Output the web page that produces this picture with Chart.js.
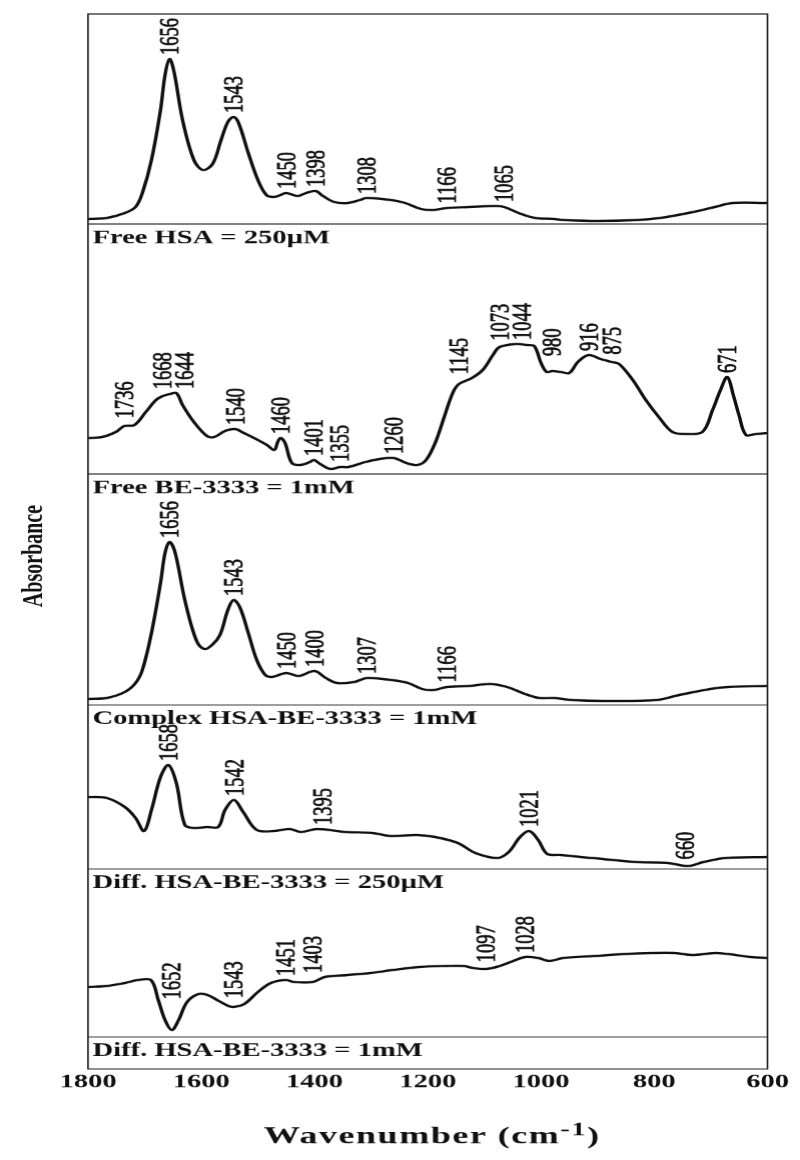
<!DOCTYPE html>
<html>
<head>
<meta charset="utf-8">
<title>FTIR spectra HSA / BE-3333</title>
<script src="https://cdn.jsdelivr.net/npm/chart.js@4.4.1/dist/chart.umd.min.js"></script>
<style>
  html, body { margin: 0; padding: 0; background: #fff; overflow: hidden; }
  /* the published figure is stretched horizontally, so the whole chart is too */
  #wrap { width: 533px; height: 1160px; transform: scaleX(1.501); transform-origin: 0 0; }
</style>
</head>
<body>
<div id="wrap"><canvas id="ftir"></canvas></div>
<script>
// ---- DATA (wavenumber in cm-1, absorbance in a.u.) ----
const tickValues = [1800, 1600, 1400, 1200, 1000, 800, 600];

const hsaName  = 'Free HSA = 250µM';
const hsaWn    = [1800, 1767, 1735, 1716, 1704, 1688, 1672, 1664, 1656, 1648, 1633, 1613, 1597, 1580, 1565, 1553, 1543, 1534, 1517, 1500, 1485, 1472, 1460, 1450, 1430, 1415, 1398, 1385, 1365, 1341, 1320, 1308, 1265, 1240, 1212, 1190, 1166, 1127, 1080, 1065, 1035, 1010, 977, 960, 900, 830, 790, 740, 693, 662, 600];
const hsaAbs   = [0.05, 0.06, 0.11, 0.17, 0.31, 0.64, 1.14, 1.49, 1.65, 1.52, 1.04, 0.64, 0.54, 0.60, 0.84, 1.02, 1.07, 1.01, 0.71, 0.44, 0.29, 0.27, 0.29, 0.31, 0.28, 0.31, 0.33, 0.28, 0.22, 0.21, 0.24, 0.26, 0.24, 0.21, 0.15, 0.14, 0.16, 0.17, 0.18, 0.17, 0.10, 0.06, 0.05, 0.04, 0.03, 0.04, 0.06, 0.11, 0.17, 0.21, 0.21];
const hsaMarks = [1656, 1543, 1450, 1398, 1308, 1166, 1065];

const beName   = 'Free BE-3333 = 1mM';
const beWn     = [1800, 1775, 1751, 1736, 1718, 1698, 1680, 1668, 1655, 1644, 1633, 1613, 1590, 1577, 1558, 1540, 1525, 1500, 1484, 1471, 1465, 1460, 1452, 1440, 1425, 1408, 1401, 1390, 1372, 1355, 1340, 1310, 1285, 1260, 1238, 1218, 1203, 1187, 1171, 1156, 1145, 1122, 1103, 1085, 1073, 1044, 1025, 1012, 1000, 990, 980, 965, 950, 935, 916, 895, 875, 862, 838, 815, 792, 768, 745, 715, 697, 683, 671, 660, 650, 638, 620, 600];
const beAbs    = [0.36, 0.37, 0.42, 0.48, 0.49, 0.62, 0.74, 0.78, 0.80, 0.81, 0.69, 0.52, 0.38, 0.37, 0.43, 0.45, 0.41, 0.34, 0.29, 0.24, 0.32, 0.36, 0.31, 0.11, 0.09, 0.12, 0.14, 0.10, 0.05, 0.07, 0.07, 0.12, 0.15, 0.16, 0.11, 0.09, 0.14, 0.31, 0.57, 0.81, 0.90, 0.96, 1.04, 1.19, 1.27, 1.30, 1.29, 1.28, 1.11, 1.02, 1.03, 1.02, 1.01, 1.12, 1.19, 1.15, 1.12, 1.10, 0.94, 0.74, 0.57, 0.42, 0.40, 0.42, 0.64, 0.84, 0.97, 0.78, 0.58, 0.39, 0.40, 0.41];
const beMarks  = [1736, 1668, 1644, 1540, 1460, 1401, 1355, 1260, 1145, 1073, 1044, 980, 916, 875, 671];

const cxName   = 'Complex HSA-BE-3333 = 1mM';
const cxWn     = [1800, 1767, 1735, 1716, 1704, 1688, 1672, 1664, 1656, 1646, 1629, 1609, 1595, 1581, 1567, 1553, 1543, 1532, 1517, 1502, 1487, 1475, 1450, 1428, 1400, 1380, 1360, 1330, 1307, 1265, 1235, 1210, 1190, 1166, 1127, 1090, 1060, 1028, 1003, 977, 946, 891, 796, 756, 701, 670, 600];
const cxAbs    = [0.06, 0.07, 0.13, 0.22, 0.35, 0.72, 1.22, 1.52, 1.63, 1.52, 1.05, 0.65, 0.56, 0.60, 0.70, 0.95, 1.05, 0.98, 0.72, 0.45, 0.30, 0.28, 0.32, 0.29, 0.34, 0.27, 0.22, 0.23, 0.27, 0.25, 0.22, 0.16, 0.15, 0.18, 0.19, 0.21, 0.18, 0.11, 0.07, 0.07, 0.05, 0.04, 0.05, 0.10, 0.16, 0.18, 0.19];
const cxMarks  = [1656, 1543, 1450, 1400, 1307, 1166];

const d250Name  = 'Diff. HSA-BE-3333 = 250µM';
const d250Wn    = [1800, 1767, 1735, 1716, 1701, 1688, 1672, 1658, 1644, 1629, 1613, 1589, 1570, 1558, 1542, 1526, 1502, 1471, 1444, 1424, 1395, 1345, 1298, 1266, 1219, 1187, 1147, 1116, 1077, 1057, 1037, 1021, 1005, 989, 965, 910, 831, 776, 740, 713, 674, 600];
const d250Abs   = [0.72, 0.71, 0.62, 0.51, 0.38, 0.59, 0.92, 1.04, 0.86, 0.44, 0.41, 0.42, 0.42, 0.59, 0.69, 0.57, 0.39, 0.38, 0.40, 0.37, 0.40, 0.37, 0.36, 0.33, 0.34, 0.32, 0.26, 0.16, 0.11, 0.17, 0.32, 0.38, 0.29, 0.15, 0.14, 0.11, 0.07, 0.06, 0.03, 0.07, 0.11, 0.12];
const d250Marks = [1658, 1542, 1395, 1021, 660];
const d250At    = [1658, 1542, 1385, 1021, 745];   // where the labels sit in the figure

const d1Name   = 'Diff. HSA-BE-3333 = 1mM';
const d1Wn     = [1800, 1767, 1735, 1712, 1689, 1676, 1664, 1652, 1640, 1625, 1605, 1589, 1569, 1552, 1543, 1524, 1500, 1477, 1451, 1436, 1403, 1382, 1341, 1301, 1262, 1215, 1167, 1136, 1120, 1097, 1073, 1049, 1028, 1005, 985, 961, 906, 851, 804, 764, 733, 693, 670, 630, 600];
const d1Abs    = [0.50, 0.51, 0.54, 0.57, 0.57, 0.37, 0.17, 0.07, 0.17, 0.35, 0.43, 0.42, 0.36, 0.31, 0.30, 0.33, 0.45, 0.54, 0.57, 0.55, 0.55, 0.60, 0.62, 0.64, 0.67, 0.70, 0.71, 0.71, 0.69, 0.68, 0.71, 0.76, 0.80, 0.79, 0.76, 0.79, 0.81, 0.83, 0.84, 0.84, 0.82, 0.84, 0.83, 0.80, 0.79];
const d1Marks  = [1652, 1543, 1451, 1403, 1097, 1028];

// each panel's absorbance range (a.u.), top to bottom; the caption band closes the frame
const panelMax = [2.10, 2.50, 2.31, 1.64, 1.68];
const captionBand = 0.32;

const panels = [
  { name: hsaName,  wn: hsaWn,  ab: hsaAbs,  marks: hsaMarks,  at: hsaMarks },
  { name: beName,   wn: beWn,   ab: beAbs,   marks: beMarks,   at: beMarks },
  { name: cxName,   wn: cxWn,   ab: cxAbs,   marks: cxMarks,   at: cxMarks },
  { name: d250Name, wn: d250Wn, ab: d250Abs, marks: d250Marks, at: d250At },
  { name: d1Name,   wn: d1Wn,   ab: d1Abs,   marks: d1Marks,   at: d1Marks },
];

const SERIF = "'Liberation Serif', 'Times New Roman', serif";
const INK = '#111';

// ---- helpers ----
function absAt(wn, ab, w) {
  for (let i = 0; i < wn.length - 1; i++) {
    if (w <= wn[i] && w >= wn[i + 1]) {
      const t = (wn[i] - w) / (wn[i] - wn[i + 1]);
      return ab[i] + t * (ab[i + 1] - ab[i]);
    }
  }
  return ab[ab.length - 1];
}
// highest point of the trace close to a label
function topNear(wn, ab, w) {
  let m = Math.max(absAt(wn, ab, w), absAt(wn, ab, w - 22), absAt(wn, ab, w + 22));
  wn.forEach((v, i) => { if (Math.abs(v - w) <= 22) m = Math.max(m, ab[i]); });
  return m;
}

// ---- frame, captions, peak labels, axis titles ----
const ftirDecor = {
  id: 'ftirDecor',
  afterDatasetsDraw(chart) {
    const { ctx, chartArea: a, scales } = chart;
    const xs = scales.x;
    ctx.save();
    ctx.strokeStyle = '#222';
    ctx.lineWidth = 1.1;
    ctx.strokeRect(a.left, a.top, a.right - a.left, a.bottom - a.top);

    panels.forEach((p, k) => {
      const ys = scales['y' + (k + 1)];
      ctx.strokeStyle = '#222';
      ctx.lineWidth = 1.1;
      ctx.beginPath();
      ctx.moveTo(a.left, ys.bottom);
      ctx.lineTo(a.right, ys.bottom);
      ctx.stroke();

      ctx.fillStyle = INK;
      ctx.font = 'bold 19px ' + SERIF;
      ctx.textAlign = 'left';
      ctx.textBaseline = 'alphabetic';
      ctx.fillText(p.name, a.left + 3, ys.bottom + 19);

      // rotated peak labels, pushed apart when they would touch
      ctx.font = '18.5px ' + SERIF;
      ctx.strokeStyle = INK;
      ctx.lineWidth = 0.55;
      let lastX = -1e9;
      p.marks.forEach((m, i) => {
        let x = xs.getPixelForValue(p.at[i]);
        if (x - lastX < 14.7) x = lastX + 14.7;
        lastX = x;
        const w = xs.getValueForPixel(x);
        const y = ys.getPixelForValue(topNear(p.wn, p.ab, w)) - 4;
        ctx.save();
        ctx.translate(x, y);
        ctx.rotate(-Math.PI / 2);
        ctx.textAlign = 'left';
        ctx.textBaseline = 'middle';
        ctx.fillText(String(m), 0, 1);
        ctx.strokeText(String(m), 0, 1);
        ctx.restore();
      });
    });

    // y title
    ctx.save();
    ctx.translate(23, 556);
    ctx.rotate(-Math.PI / 2);
    ctx.font = 'bold 20px ' + SERIF;
    ctx.textAlign = 'center';
    ctx.textBaseline = 'middle';
    ctx.fillText('Absorbance', 0, 0);
    ctx.restore();

    // x title with superscript
    const main = 'Wavenumber (cm', sup = '-1', close = ')';
    ctx.textAlign = 'left';
    ctx.textBaseline = 'alphabetic';
    ctx.letterSpacing = '1px';
    ctx.font = 'bold 24px ' + SERIF;
    const w1 = ctx.measureText(main).width, w3 = ctx.measureText(close).width;
    ctx.font = 'bold 19px ' + SERIF;
    const w2 = ctx.measureText(sup).width;
    const tx = (a.left + a.right) / 2 - (w1 + w2 + w3) / 2 + 3;
    const base = 1143;
    ctx.font = 'bold 24px ' + SERIF;
    ctx.fillText(main, tx, base);
    ctx.font = 'bold 19px ' + SERIF;
    ctx.fillText(sup, tx + w1, base - 8);
    ctx.font = 'bold 24px ' + SERIF;
    ctx.fillText(close, tx + w1 + w2, base);
    ctx.restore();
  }
};

// ---- chart ----
const scales = {
  x: {
    type: 'linear',
    reverse: true,
    min: 600, max: 1800,
    afterBuildTicks: s => { s.ticks = tickValues.map(v => ({ value: v })); },
    afterFit: s => { s.height = 91; },
    grid: { display: false, drawTicks: false },
    border: { display: false },
    ticks: {
      color: INK,
      padding: 2,
      maxRotation: 0,
      font: { family: SERIF, size: 19, weight: 'bold' },
      callback: v => String(v),
    },
  },
};
panelMax.forEach((m, k) => {
  scales['y' + (k + 1)] = {
    type: 'linear', position: 'left', stack: 'panels',
    stackWeight: m, weight: 10 - k,
    min: 0, max: m, display: false,
  };
});
scales.yCap = {
  type: 'linear', position: 'left', stack: 'panels',
  stackWeight: captionBand, weight: 1,
  min: 0, max: 1, display: false,
};

new Chart(document.getElementById('ftir'), {
  type: 'line',
  data: {
    datasets: panels.map((p, k) => ({
      label: p.name,
      data: p.wn.map((w, i) => ({ x: w, y: p.ab[i] })),
      yAxisID: 'y' + (k + 1),
      borderColor: INK,
      borderWidth: 2.3,
      pointRadius: 0,
      tension: 0.35,
      fill: false,
    }))
  },
  options: {
    responsive: true,
    maintainAspectRatio: false,
    devicePixelRatio: 1.5,
    animation: false,
    events: [],
    layout: { padding: { left: 58.6, right: 22, top: 14, bottom: 0 } },
    plugins: { legend: { display: false }, tooltip: { enabled: false } },
    scales,
  },
  plugins: [ftirDecor],
});
</script>
</body>
</html>
